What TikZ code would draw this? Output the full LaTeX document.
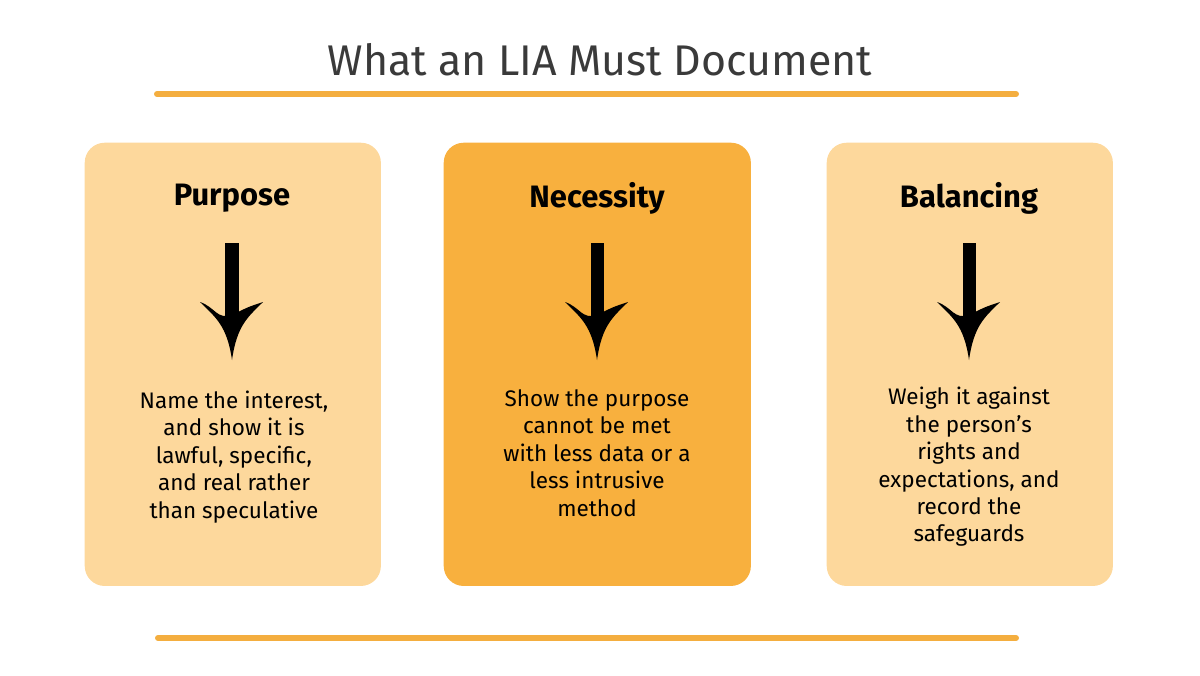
\documentclass[tikz,border=0pt]{standalone}
\usepackage{fontspec}
\setmainfont{Fira Sans}
\usetikzlibrary{calc}
\definecolor{lightorange}{HTML}{FDD89C}
\definecolor{midorange}{HTML}{F8B03E}
\definecolor{lineorange}{HTML}{F4AE3F}
\definecolor{inkgray}{HTML}{3A3A3A}

\tikzset{
    card/.style={rounded corners=0.2cm, minimum height=4.43cm, inner sep=0pt},
    heading/.style={font=\fontsize{8.8}{10}\selectfont\bfseries, text=black},
    body/.style={font=\fontsize{6.4}{7.8}\selectfont, align=center, text=black},
    rule/.style={lineorange, line width=0.06cm, line cap=round},
    shaft/.style={line width=0.13cm},
}

% swept arrow head, tip at #1
\newcommand{\sweephead}[1]{
    \fill (#1) .. controls +(5,-35) and +(-15,15) .. ($(#1)+(31,-58)$)
        .. controls +(-15,5) .. ($(#1)+(0,-45)$)
        .. controls +(-15,5) and +(15,5) .. ($(#1)+(-32,-58)$)
        .. controls +(15,15) and +(-5,-35) .. (#1);
}

\begin{document}
\begin{tikzpicture}[x=0.01cm, y=-0.01cm]

    \useasboundingbox (0,0) rectangle (1200,675);

    %% Title
    \node[font=\fontsize{12.2}{14}\selectfont, text=inkgray] (title) at (600,60) {What an LIA Must Document};
    \draw[rule] (157,94) -- (1016,94);
    \draw[rule] (158,638) -- (1016,638);

    %% Cards
    \node[card, fill=lightorange, minimum width=2.96cm, anchor=north west] (purpose) at (84,142) {};
    \node[card, fill=midorange, minimum width=3.07cm, anchor=north west] (necessity) at (443,142) {};
    \node[card, fill=lightorange, minimum width=2.86cm, anchor=north west] (balancing) at (826,142) {};

    % Headings
    \node[heading] (purposeH) at (232,198) {Purpose};
    \node[heading] (necessityH) at (597,198) {Necessity};
    \node[heading] (balancingH) at (969,198) {Balancing};

    % Arrows
    \foreach \name/\x in {purpose/232, necessity/597, balancing/969} {
        \coordinate (\name Top) at (\x,243);
        \coordinate (\name Tip) at (\x,360);
        \draw[shaft] (\name Top) -- ($(\name Tip)+(0,-40)$);
        \sweephead{\name Tip}
    }

    % Texts
    \node[body] (purposeT) at (234,457) {Name the interest,\\and show it is\\lawful, specific,\\and real rather\\than speculative};
    \node[body] (necessityT) at (597,453) {Show the purpose\\cannot be met\\with less data or a\\less intrusive\\method};
    \node[body] (balancingT) at (969,467) {Weigh it against\\the person’s\\rights and\\expectations, and\\record the\\safeguards};

\end{tikzpicture}
\end{document}
